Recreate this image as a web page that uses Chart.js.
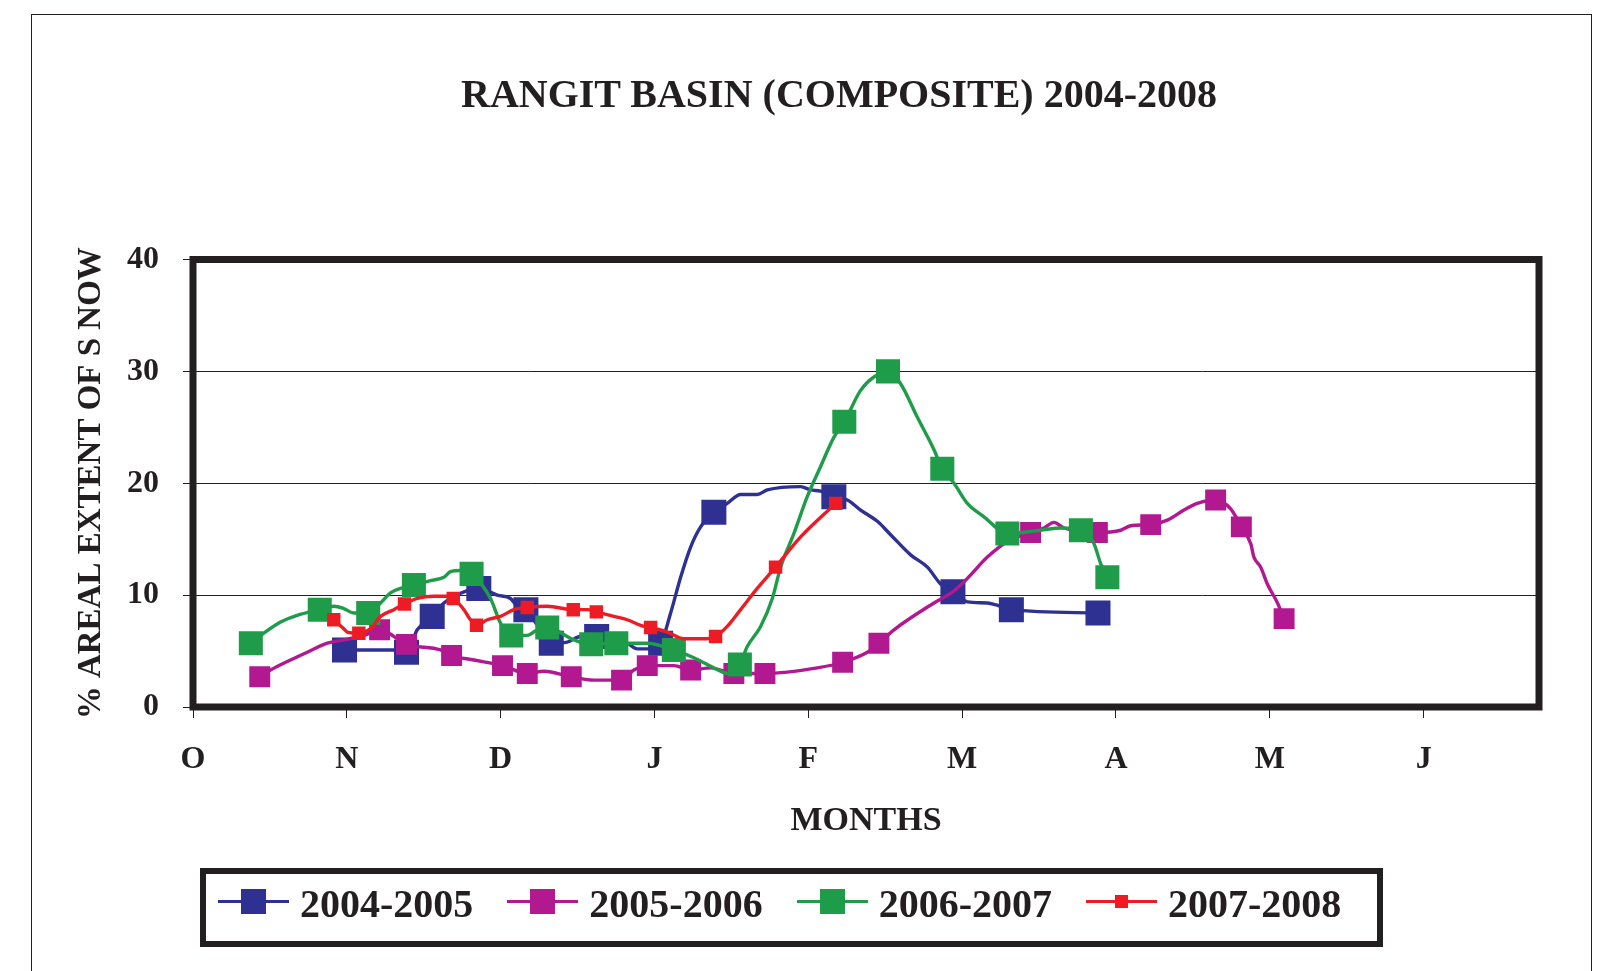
<!DOCTYPE html>
<html>
<head>
<meta charset="utf-8">
<title>Rangit Basin (Composite) 2004-2008</title>
<script src="https://cdn.jsdelivr.net/npm/chart.js@4.4.0/dist/chart.umd.min.js"></script>
<style>
  html, body { margin: 0; padding: 0; background: #fff; overflow: hidden; }
  body { width: 1613px; height: 971px; position: relative; font-family: "Liberation Serif", "Times New Roman", serif; color: #231f20; }
  #wrap { position: absolute; left: 0; top: 0; width: 1613px; height: 971px; }
  #frame { position: absolute; left: 31px; top: 14px; width: 1561px; height: 1000px; border: 1px solid #231f20; box-sizing: border-box; pointer-events: none; }
  #title { position: absolute; left: 461px; top: 74px; font-weight: bold; font-size: 40px; line-height: 40px; white-space: nowrap; }
  #legend { position: absolute; left: 200px; top: 868px; width: 1183px; height: 79px; box-sizing: border-box;
            border: 6px solid #231f20; display: flex; align-items: center; gap: 34px; padding: 0 0 7px 12px; }
  .item { display: flex; align-items: center; font-weight: bold; font-size: 40px; line-height: 40px; white-space: nowrap; }
  .sym { position: relative; top: -3px; width: 71px; height: 3px; margin-right: 11px; }
  .sym i { position: absolute; left: 23px; top: -11px; width: 25px; height: 25px; background: inherit; }
  .sym.small i { left: 29px; top: -5px; width: 13px; height: 13px; }
</style>
</head>
<body>
<div id="wrap"><canvas id="snowChart"></canvas></div>
<div id="frame"></div>
<div id="title">RANGIT BASIN (COMPOSITE) 2004-2008</div>
<div id="legend"></div>
<script>
const ink = '#231f20';
const family = '"Liberation Serif", "Times New Roman", serif';

/* ── DATA (x = months since 1 Oct, y = % areal extent of snow) ── */
const monthLabels = ['O', 'N', 'D', 'J', 'F', 'M', 'A', 'M', 'J'];
const seasonNames = ['2004-2005', '2005-2006', '2006-2007', '2007-2008'];

const months0405 = [0.985, 1.306, 1.388, 1.458, 1.555, 1.631, 1.783, 1.858, 1.978, 2.064, 2.108, 2.164, 2.259, 2.329, 2.433, 2.519,
  2.624, 2.823, 2.888, 2.953, 3.040, 3.105, 3.170, 3.235, 3.300, 3.386, 3.473, 3.560, 3.668, 3.733, 3.950, 4.015, 4.080, 4.166,
  4.254, 4.340, 4.449, 4.535, 4.665, 4.774, 4.860, 4.940, 5.034, 5.164, 5.250, 5.320, 5.883];
const snow0405 = [5.1, 5.1, 4.9, 6.9, 8.1, 9.3, 10.4, 10.6, 10.0, 9.7, 9.0, 8.7, 6.9, 5.7, 5.8, 6.3,
  6.3, 5.7, 5.2, 5.2, 5.7, 8.4, 11.6, 14.3, 16.1, 17.4, 18.2, 19.0, 19.0, 19.4, 19.7, 19.4, 19.3, 18.8,
  18.5, 17.6, 16.6, 15.4, 13.6, 12.5, 11.0, 10.3, 9.4, 9.3, 9.0, 8.7, 8.4];
const marks0405 = [0, 2, 4, 7, 11, 13, 16, 20, 25, 33, 41, 45, 46];

const months0506 = [0.434, 0.504, 0.634, 0.743, 0.873, 0.980, 1.111, 1.213, 1.388, 1.609, 1.681, 1.826, 2.012, 2.173, 2.281, 2.459,
  2.606, 2.786, 2.866, 2.953, 3.126, 3.235, 3.365, 3.516, 3.718, 4.059, 4.223, 4.384, 4.459, 4.557, 4.817, 4.940, 5.034, 5.164,
  5.294, 5.445, 5.532, 5.597, 5.662, 5.879, 6.031, 6.096, 6.226, 6.334, 6.442, 6.529, 6.648, 6.746, 6.815, 6.876, 6.897, 6.941,
  6.984, 7.050, 7.093];
const snow0506 = [2.7, 3.3, 4.2, 4.9, 5.7, 6.0, 6.4, 6.9, 5.6, 5.1, 4.6, 4.2, 3.7, 3.0, 3.2, 2.7,
  2.4, 2.4, 3.3, 3.7, 3.7, 3.3, 3.5, 3.0, 3.0, 3.5, 4.0, 4.9, 5.7, 6.9, 9.3, 10.3, 11.5, 13.4,
  14.8, 15.6, 16.0, 16.5, 16.0, 15.6, 15.8, 16.2, 16.3, 16.7, 17.6, 18.2, 18.5, 17.7, 16.1, 14.6, 13.4, 12.5,
  11.0, 9.3, 7.9];
const marks0506 = [0, 7, 8, 10, 12, 13, 15, 17, 19, 21, 23, 24, 26, 28, 35, 39, 42, 46, 48, 54];

const months0607 = [0.376, 0.460, 0.569, 0.677, 0.824, 0.915, 0.980, 1.046, 1.139, 1.219, 1.284, 1.349, 1.436, 1.544, 1.631, 1.674,
  1.739, 1.811, 1.934, 1.999, 2.069, 2.173, 2.238, 2.303, 2.476, 2.589, 2.752, 2.866, 2.953, 3.126, 3.256, 3.343, 3.430, 3.473,
  3.555, 3.603, 3.690, 3.766, 3.820, 3.906, 3.993, 4.080, 4.166, 4.234, 4.340, 4.427, 4.518, 4.600, 4.709, 4.817, 4.871, 4.947,
  5.034, 5.142, 5.294, 5.510, 5.640, 5.772, 5.857, 5.901, 5.944];
const snow0607 = [5.7, 6.6, 7.6, 8.2, 8.7, 9.0, 8.8, 8.4, 8.4, 9.3, 10.2, 10.6, 10.9, 11.3, 11.6, 12.1,
  12.2, 11.9, 9.7, 7.5, 6.4, 6.4, 6.9, 7.1, 6.0, 5.6, 5.7, 5.7, 5.7, 5.1, 4.4, 3.8, 3.2, 3.0,
  3.8, 5.4, 7.2, 9.7, 12.5, 15.5, 18.8, 21.5, 24.1, 25.5, 28.3, 29.5, 30.0, 28.9, 25.9, 23.0, 21.3, 20.0,
  18.2, 17.0, 15.5, 15.8, 16.0, 15.8, 14.6, 12.8, 11.6];
const marks0607 = [0, 4, 8, 12, 17, 20, 23, 25, 26, 29, 34, 43, 46, 50, 54, 57, 60];

const months0708 = [0.915, 0.980, 1.003, 1.078, 1.154, 1.219, 1.306, 1.375, 1.458, 1.566, 1.653, 1.692, 1.761, 1.804, 1.843, 1.913,
  1.999, 2.086, 2.173, 2.303, 2.472, 2.563, 2.622, 2.736, 2.823, 2.910, 2.975, 3.083, 3.191, 3.343, 3.397, 3.473, 3.560, 3.668,
  3.787, 3.950, 4.178];
const snow0708 = [7.8, 7.0, 6.7, 6.6, 7.0, 8.1, 8.7, 9.2, 9.7, 9.9, 9.9, 9.7, 8.7, 7.8, 7.3, 7.8,
  8.1, 8.7, 8.9, 9.0, 8.7, 8.7, 8.5, 8.1, 7.8, 7.3, 7.1, 6.7, 6.1, 6.1, 6.3, 7.2, 8.7, 10.6,
  12.5, 15.2, 18.2];
const marks0708 = [0, 3, 7, 11, 14, 18, 20, 22, 26, 30, 34, 36];

/* ── STYLE ── */
const seasonStyle = [
  { color: '#2e3192', radius: 17.7, order: 4 },
  { color: '#b2188f', radius: 14.8, order: 3 },
  { color: '#1f9c4a', radius: 17,   order: 2 },
  { color: '#ed1c24', radius: 9.5,  order: 1 }
];
const seasonData = [
  [months0405, snow0405, marks0405],
  [months0506, snow0506, marks0506],
  [months0607, snow0607, marks0607],
  [months0708, snow0708, marks0708]
];

const datasets = seasonData.map(([xs, ys, marks], i) => {
  const st = seasonStyle[i];
  return {
    label: seasonNames[i],
    data: xs.map((x, j) => ({ x, y: ys[j] })),
    showLine: true,
    borderColor: st.color,
    backgroundColor: st.color,
    borderWidth: 3.4,
    cubicInterpolationMode: 'monotone',
    pointStyle: 'rect',
    pointBackgroundColor: st.color,
    pointBorderWidth: 0,
    pointRadius: ctx => marks.includes(ctx.dataIndex) ? st.radius : 0,
    order: st.order
  };
});

/* ── PLOT FRAME ── */
const plotFrame = {
  id: 'plotFrame',
  beforeDatasetsDraw(chart) {
    const { ctx, chartArea: a } = chart;
    ctx.save();
    ctx.lineWidth = 7;
    ctx.strokeStyle = ink;
    ctx.strokeRect(a.left, a.top, a.right - a.left, a.bottom - a.top);
    ctx.restore();
  }
};

new Chart(document.getElementById('snowChart'), {
  type: 'scatter',
  data: { datasets },
  options: {
    responsive: true, maintainAspectRatio: false, animation: false, events: [],
    layout: { padding: { left: 72, right: 74, top: 259.5, bottom: 129.6 } },
    plugins: { legend: { display: false }, tooltip: { enabled: false } },
    scales: {
      x: {
        type: 'linear', min: 0, max: 8.75,
        afterFit: s => { s.height = 134.4; },
        ticks: {
          stepSize: 1, includeBounds: false, autoSkip: false, maxRotation: 0, padding: 23,
          color: ink, font: { family, size: 32, weight: 'bold' },
          callback: v => monthLabels[v] ?? ''
        },
        grid: { drawOnChartArea: false, drawTicks: true, tickLength: 11, color: ink, lineWidth: 1 },
        border: { display: false },
        title: { display: true, text: 'MONTHS', color: ink, padding: 0, font: { family, size: 34, weight: 'bold' } }
      },
      y: {
        min: 0, max: 40,
        afterFit: s => { s.width = 121; },
        ticks: { stepSize: 10, padding: 24, color: ink, font: { family, size: 32, weight: 'bold' } },
        grid: { color: ink, lineWidth: 1, tickLength: 10 },
        border: { display: false },
        title: { display: true, text: '% AREAL EXTENT OF S NOW', color: ink, padding: 0, font: { family, size: 33, weight: 'bold' } }
      }
    }
  },
  plugins: [plotFrame]
});

/* ── LEGEND ── */
document.getElementById('legend').innerHTML = seasonNames.map((name, i) => {
  const c = seasonStyle[i].color;
  const small = i === 3 ? ' small' : '';
  return `<div class="item"><span class="sym${small}" style="background:${c}"><i></i></span>${name}</div>`;
}).join('');
</script>
</body>
</html>
